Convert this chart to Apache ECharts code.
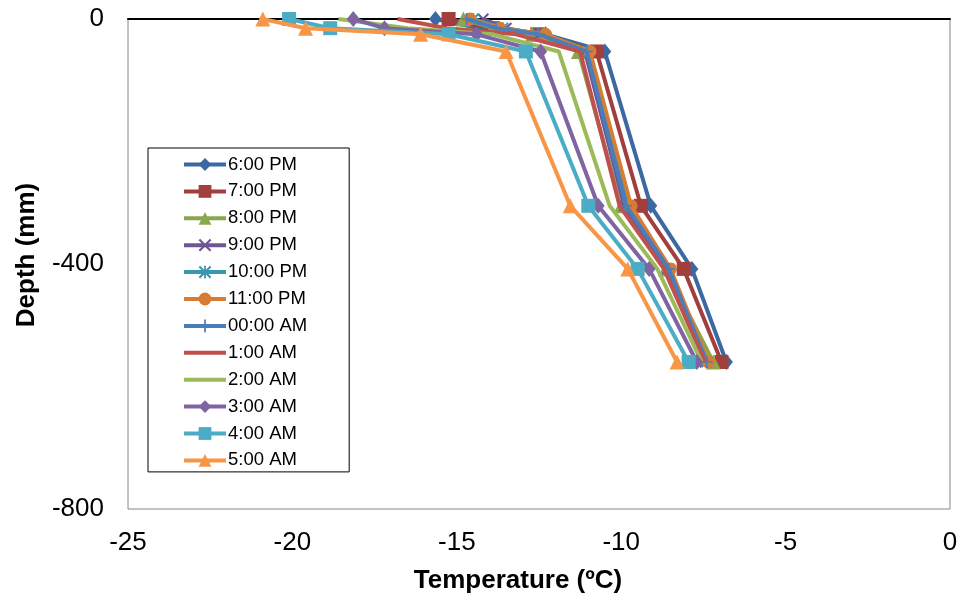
<!DOCTYPE html>
<html>
<head>
<meta charset="utf-8">
<title>Temperature profile by depth</title>
<script src="https://cdn.jsdelivr.net/npm/echarts@6/dist/echarts.min.js"></script>
<style>
  html, body { margin: 0; padding: 0; background: #ffffff; }
  #chart { width: 963px; height: 600px; }
</style>
</head>
<body>
<div id="chart"></div>
<script>
// Sensor depths (mm), shared by every hourly profile
const depths = [0, -15, -25, -53, -305, -408, -560];

// Hourly temperature profiles (ºC), one value per depth
const t_6pm  = [-15.65, -14.3, -12.3, -10.5, -9.1, -7.85, -6.8];
const t_7pm  = [-15.25, -13.9, -12.55, -10.75, -9.4, -8.1, -6.95];
const t_8pm  = [-14.8, -13.9, -12.7, -11.3, -10.0, -8.65, -7.2];
const t_9pm  = [-14.2, -13.5, -12.5, -11.1, -9.9, -8.6, -7.45];
const t_10pm = [-14.5, -13.6, -12.4, -11.0, -9.8, -8.55, -7.4];
const t_11pm = [-14.6, -13.7, -12.3, -10.95, -9.7, -8.5, -7.35];
const t_00am = [-14.7, -13.8, -12.5, -11.05, -9.85, -8.55, -7.4];
const t_1am  = [-16.8, -15.3, -13.2, -11.25, -10.05, -8.7, -7.45];
const t_2am  = [-18.6, -16.5, -13.9, -11.9, -10.35, -8.9, -7.55];
const t_3am  = [-18.15, -17.2, -14.4, -12.45, -10.7, -9.15, -7.7];
const t_4am  = [-20.1, -18.85, -15.25, -12.9, -11.0, -9.5, -7.95];
const t_5am  = [-20.9, -19.6, -16.1, -13.5, -11.55, -9.8, -8.3];

const seriesNames = ['6:00 PM', '7:00 PM', '8:00 PM', '9:00 PM', '10:00 PM', '11:00 PM',
                     '00:00 AM', '1:00 AM', '2:00 AM', '3:00 AM', '4:00 AM', '5:00 AM'];
const seriesTemps = [t_6pm, t_7pm, t_8pm, t_9pm, t_10pm, t_11pm,
                     t_00am, t_1am, t_2am, t_3am, t_4am, t_5am];

// Axis ticks
const xTicks = { min: -25, max: 0, interval: 5 };
const yTicks = { min: -800, max: 0, interval: 400 };

// Stroke-style marker shapes
const crossPath = 'path://M0,1.2 L1.2,0 L5,3.8 L8.8,0 L10,1.2 L6.2,5 L10,8.8 L8.8,10 L5,6.2 L1.2,10 L0,8.8 L3.8,5 Z';
const starPath = 'path://M0,1.2 L1.2,0 L4.3,3.1 L4.3,0 L5.7,0 L5.7,3.1 L8.8,0 L10,1.2 L6.2,5 L10,8.8 L8.8,10 L5.7,6.9 L5.7,10 L4.3,10 L4.3,6.9 L1.2,10 L0,8.8 L3.8,5 Z';
const plusPath = 'path://M4.3,0 L5.7,0 L5.7,4.3 L10,4.3 L10,5.7 L5.7,5.7 L5.7,10 L4.3,10 L4.3,5.7 L0,5.7 L0,4.3 L4.3,4.3 Z';
// bare line icon for the marker-less series in the legend
const lineIcon = 'path://M0,0 L42,0 L42,4 L0,4 Z';

const styles = [
  { color: '#3D69A3', symbol: 'diamond', size: [13, 16], marks: true },
  { color: '#A23E3B', symbol: 'rect', size: 14, marks: true },
  { color: '#89A84C', symbol: 'triangle', size: 15, marks: true },
  { color: '#6F5594', symbol: crossPath, size: 12, marks: true },
  { color: '#3A97AE', symbol: starPath, size: 12, marks: true },
  { color: '#D77D33', symbol: 'circle', size: 13, marks: true },
  { color: '#4A7EBB', symbol: plusPath, size: 12, marks: true },
  { color: '#C0504D', symbol: 'none', size: 0, marks: false },
  { color: '#9BBB59', symbol: 'none', size: 0, marks: false },
  { color: '#8064A2', symbol: 'diamond', size: [13, 16], marks: true },
  { color: '#4BACC6', symbol: 'rect', size: 14, marks: true },
  { color: '#F79646', symbol: 'triangle', size: 15, marks: true }
];

const font = '"Liberation Sans", Arial, sans-serif';

const series = seriesNames.map((name, i) => ({
  name: name,
  type: 'line',
  data: seriesTemps[i].map((t, k) => [t, depths[k]]),
  symbol: styles[i].symbol,
  symbolSize: styles[i].size,
  showSymbol: styles[i].marks,
  lineStyle: { color: styles[i].color, width: 4 },
  itemStyle: { color: styles[i].color, borderWidth: 0 },
  emphasis: { disabled: true },
  animation: false,
  z: 2 + i * 0.01
}));

const legendData = seriesNames.map((name, i) =>
  styles[i].marks ? { name: name } : { name: name, icon: lineIcon });

const chart = echarts.init(document.getElementById('chart'), null, { renderer: 'canvas' });
chart.setOption({
  backgroundColor: '#ffffff',
  animation: false,
  grid: {
    left: 128, right: 13, top: 19, bottom: 91,
    show: true, borderColor: '#868686', borderWidth: 1, backgroundColor: 'transparent'
  },
  xAxis: [
    {
      type: 'value', position: 'bottom',
      min: xTicks.min, max: xTicks.max, interval: xTicks.interval,
      axisLine: { show: false, onZero: false },
      axisTick: { show: false },
      splitLine: { show: false },
      axisLabel: { color: '#000', fontSize: 26, fontFamily: font, margin: 21 }
    },
    {
      // zero-depth reference line along the top edge
      type: 'value', position: 'top',
      min: xTicks.min, max: xTicks.max, interval: xTicks.interval,
      axisLine: { show: true, onZero: false, lineStyle: { color: '#000', width: 2 } },
      axisTick: { show: false },
      axisLabel: { show: false },
      splitLine: { show: false }
    }
  ],
  yAxis: {
    type: 'value',
    min: yTicks.min, max: yTicks.max, interval: yTicks.interval,
    axisLine: { show: false },
    axisTick: { show: false },
    splitLine: { show: false },
    axisLabel: { color: '#000', fontSize: 26, fontFamily: font, margin: 24 }
  },
  legend: {
    orient: 'vertical',
    left: 148, top: 148,
    padding: [7, 42, 2, 34],
    itemWidth: 42, itemHeight: 16, itemGap: 7.9,
    backgroundColor: '#ffffff',
    borderColor: '#000', borderWidth: 1,
    lineStyle: { width: 4 },
    textStyle: { color: '#000', fontSize: 18.5, fontFamily: font, padding: [0, 0, 0, -3] },
    data: legendData
  },
  graphic: [
    {
      type: 'text', x: 518, y: 581,
      style: {
        text: 'Temperature (ºC)', fill: '#000',
        font: 'bold 26px ' + font, textAlign: 'center', textVerticalAlign: 'middle'
      }
    },
    {
      type: 'text', x: 27, y: 255, rotation: Math.PI / 2,
      style: {
        text: 'Depth (mm)', fill: '#000',
        font: 'bold 26px ' + font, textAlign: 'center', textVerticalAlign: 'middle'
      }
    }
  ],
  series: series
});
</script>
</body>
</html>
